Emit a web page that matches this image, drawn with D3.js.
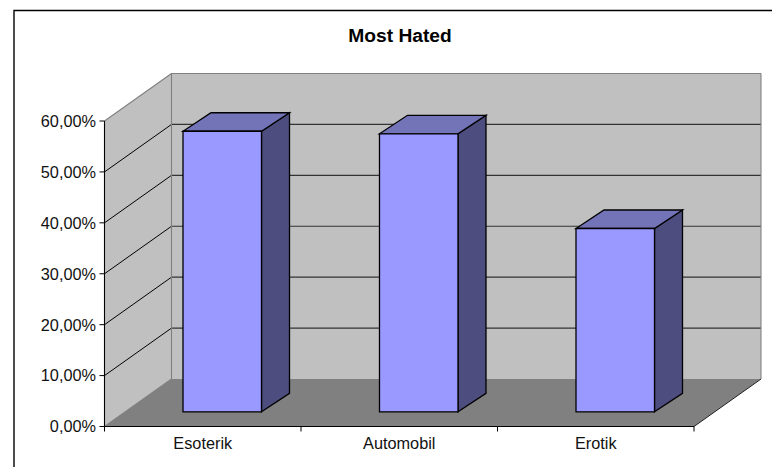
<!DOCTYPE html>
<html><head><meta charset="utf-8">
<script src="https://cdn.jsdelivr.net/npm/d3@7/dist/d3.min.js"></script>
<style>html,body{margin:0;padding:0;background:#fff}svg{display:block}</style></head>
<body><svg id="c" width="772" height="467"></svg>
<script>
const categories = ["Esoterik", "Automobil", "Erotik"];
const values = [0.551, 0.546, 0.36];
const yTicks = [0, 0.1, 0.2, 0.3, 0.4, 0.5, 0.6];
const title = "Most Hated";

const svg = d3.select("#c");
const font = "Liberation Sans, Arial, sans-serif";
const DX = 67, DY = 47.5;
const y = d3.scaleLinear().domain([0, 0.6]).range([426.5, 121]);
const x = d3.scaleBand().domain(categories).range([104.5, 694]);
const fmt = v => d3.format(".2f")(v * 100).replace(".", ",") + "%";
const poly = (pts, fill, stroke, sw) => svg.append("polygon")
  .attr("points", pts.map(p => p.join(",")).join(" "))
  .attr("fill", fill).attr("stroke", stroke || "none").attr("stroke-width", sw || 1)
  .attr("stroke-linejoin", "miter");

// outer chart frame
svg.append("path").attr("d", "M14,467V10.5H772").attr("fill", "none").attr("stroke", "#000").attr("stroke-width", 1.4);

const x0 = x.range()[0], x1 = x.range()[1], y0 = y(0), yT = y(0.6);
// walls and floor
poly([[x0, y0], [x0 + DX, y0 - DY], [x0 + DX, yT - DY], [x0, yT]], "#c0c0c0");
poly([[x0 + DX, y0 - DY], [x1 + DX, y0 - DY], [x1 + DX, yT - DY], [x0 + DX, yT - DY]], "#c0c0c0");
poly([[x0, y0], [x1, y0], [x1 + DX, y0 - DY], [x0 + DX, y0 - DY]], "#808080");

// gridlines
yTicks.slice(1).forEach(t => {
  const g = svg.append("g").attr("fill", "none");
  if (t < 0.6) {
    g.append("line").attr("x1", x0).attr("y1", y(t)).attr("x2", x0 + DX).attr("y2", y(t) - DY).attr("stroke", "#000");
  }
  g.append("line").attr("x1", x0 + DX).attr("y1", y(t) - DY).attr("x2", x1 + DX).attr("y2", y(t) - DY).attr("stroke", "#333").attr("stroke-width", 1.2);
});
// wall edges
const edge = (a, b, c, d) => svg.append("line").attr("x1", a).attr("y1", b).attr("x2", c).attr("y2", d).attr("stroke", "#808080").attr("stroke-width", 1.1);
edge(x0 + DX, yT - DY, x0 + DX, y0 - DY);
edge(x1 + DX, yT - DY, x1 + DX, y0 - DY);
edge(x0, yT, x0 + DX, yT - DY);
edge(x0 + DX, yT - DY, x1 + DX, yT - DY);
edge(x0, y0, x0 + DX, y0 - DY);
svg.append("line").attr("x1", x1).attr("y1", y0).attr("x2", x1 + DX).attr("y2", y0 - DY).attr("stroke", "#222");

// bars
const barW = 78.5, off = 19.5, offY = 14.7, bdx = 28, bdy = 18.5;
categories.forEach((c, i) => {
  const l = x(c) + (x.bandwidth() - barW) / 2 + off;
  const r = l + barW, b = y0 - offY, t = y(values[i]) - offY;
  poly([[r, b], [r + bdx, b - bdy], [r + bdx, t - bdy], [r, t]], "#4d4d7f", "#000", 1.3);
  poly([[l, t], [r, t], [r + bdx, t - bdy], [l + bdx, t - bdy]], "#7373b8", "#000", 1.3);
  poly([[l, b], [r, b], [r, t], [l, t]], "#9999ff", "#000", 1.3);
});

// axes
const yAxis = svg.append("g");
yAxis.append("line").attr("x1", x0).attr("x2", x0).attr("y1", yT).attr("y2", y0).attr("stroke", "#000").attr("stroke-width", 1.1);
yTicks.forEach(t => {
  yAxis.append("line").attr("x1", x0 - 5).attr("x2", x0).attr("y1", y(t)).attr("y2", y(t)).attr("stroke", "#000");
  yAxis.append("text").attr("x", 96).attr("y", y(t)).attr("dy", "0.36em").attr("text-anchor", "end")
    .attr("font-family", font).attr("font-size", 16.3).attr("fill", "#111").text(fmt(t));
});
const xAxis = svg.append("g");
xAxis.append("line").attr("x1", x0).attr("x2", x1).attr("y1", y0).attr("y2", y0).attr("stroke", "#000").attr("stroke-width", 1.2);
[x0, ...categories.map(c => x(c) + x.bandwidth())].forEach(p => {
  xAxis.append("line").attr("x1", p).attr("x2", p).attr("y1", y0).attr("y2", y0 + 5).attr("stroke", "#000");
});
categories.forEach(c => {
  xAxis.append("text").attr("x", x(c) + x.bandwidth() / 2).attr("y", 449).attr("text-anchor", "middle")
    .attr("font-family", font).attr("font-size", 16.3).attr("fill", "#111").text(c);
});
svg.append("text").attr("x", 400).attr("y", 42).attr("text-anchor", "middle")
  .attr("font-family", font).attr("font-size", 19.2).attr("font-weight", "bold").text(title);
</script></body></html>
